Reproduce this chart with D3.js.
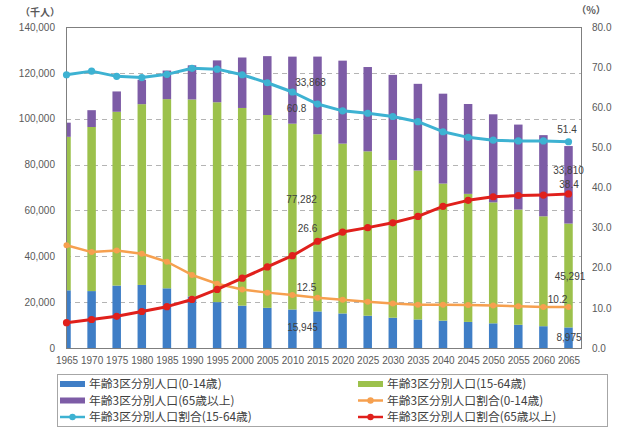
<!DOCTYPE html>
<html><head><meta charset="utf-8">
<script src="https://cdn.jsdelivr.net/npm/d3@7/dist/d3.min.js"></script>
<style>
body{margin:0;background:#fff;}
svg{display:block;font-family:"Liberation Sans",Arial,sans-serif;}
.cjk{font-family:"Noto Sans CJK JP","Noto Sans CJK SC",sans-serif;}
</style></head><body>
<svg id="c" width="623" height="430"></svg>
<script>
const years = ["1965","1970","1975","1980","1985","1990","1995","2000","2005","2010","2015","2020","2025","2030","2035","2040","2045","2050","2055","2060","2065"];
const pop0_14  = [25166,24823,27221,27507,26033,22486,20014,18472,17521,16803,15945,15075,14073,13212,12457,11936,11384,10767,10123,9508,8975];
const pop15_64 = [66928,71566,75807,78835,82506,85904,87165,86220,84092,81032,77282,74058,71701,68754,64942,59777,55845,52750,50276,47928,45291];
const pop65    = [6181,7331,8865,10647,12468,14895,18261,22005,25672,29246,33868,36192,36771,37160,37817,39206,39192,38406,37042,35403,33810];
const pct0_14  = [25.6,23.9,24.3,23.5,21.5,18.2,16.0,14.6,13.8,13.2,12.5,12.0,11.5,11.1,10.8,10.8,10.7,10.6,10.4,10.2,10.2];
const pct15_64 = [68.1,69.0,67.7,67.4,68.2,69.7,69.5,68.1,66.1,63.8,60.8,59.1,58.5,57.7,56.4,53.9,52.5,51.8,51.6,51.6,51.4];
const pct65    = [6.3,7.1,7.9,9.1,10.3,12.1,14.6,17.4,20.2,23.0,26.6,28.9,30.0,31.2,32.8,35.3,36.8,37.7,38.0,38.1,38.4];
const leftTicks  = [0,20000,40000,60000,80000,100000,120000,140000];
const rightTicks = [0,10,20,30,40,50,60,70,80];
const seriesNames = ["年齢3区分別人口(0-14歳)","年齢3区分別人口(15-64歳)","年齢3区分別人口(65歳以上)","年齢3区分別人口割合(0-14歳)","年齢3区分別人口割合(15-64歳)","年齢3区分別人口割合(65歳以上)"];

const C = {blue:"#3f7ec6", green:"#9cc14c", purple:"#7d5ca6", cyan:"#3db2d2", orange:"#f6a04f", red:"#e0201c"};
const svg = d3.select("#c");
const L=66, R=582, T=27, B=348;
const x = d3.scalePoint().domain(years).range([66.5,568.5]);
const yL = d3.scaleLinear().domain([0,140000]).range([B,T]);
const yR = d3.scaleLinear().domain([0,80]).range([B,T]);

svg.append("defs").append("clipPath").attr("id","pc").append("rect").attr("x",L).attr("y",T).attr("width",R-L).attr("height",B-T);

// gridlines
svg.append("g").selectAll("line").data(leftTicks.filter(d=>d>0&&d<140000)).join("line")
  .attr("x1",L).attr("x2",R).attr("y1",d=>Math.round(yL(d))+0.5).attr("y2",d=>Math.round(yL(d))+0.5)
  .attr("stroke","#b4b4b4").attr("stroke-dasharray","5,4");

// stacked bars
const stackData = years.map((y,i)=>({year:y,a:pop0_14[i],b:pop15_64[i],c:pop65[i]}));
const stacked = d3.stack().keys(["a","b","c"])(stackData);
const bw=8.5;
const barCols=[C.blue,C.green,C.purple];
svg.append("g").attr("clip-path","url(#pc)").selectAll("g").data(stacked).join("g").attr("fill",(d,i)=>barCols[i])
  .selectAll("rect").data(d=>d).join("rect")
  .attr("x",d=>x(d.data.year)-bw/2).attr("width",bw)
  .attr("y",d=>yL(d[1])).attr("height",d=>yL(d[0])-yL(d[1]));

// frame
svg.append("rect").attr("x",L+0.5).attr("y",T+0.5).attr("width",R-L-1).attr("height",B-T).attr("fill","none").attr("stroke","#7f7f7f");

// lines
const lineSeries=[{v:pct15_64,c:C.cyan,w:3,r:3.6},{v:pct0_14,c:C.orange,w:2.5,r:3},{v:pct65,c:C.red,w:3,r:3.6}];
const lg = svg.append("g");
lineSeries.forEach(s=>{
  const pts = years.map((y,i)=>[x(y),yR(s.v[i])]);
  lg.append("path").attr("d",d3.line()(pts)).attr("fill","none").attr("stroke",s.c).attr("stroke-width",s.w).attr("stroke-linejoin","round");
  lg.append("g").selectAll("circle").data(pts).join("circle").attr("cx",d=>d[0]).attr("cy",d=>d[1]).attr("r",s.r).attr("fill",s.c);
});

// axes
const axL = svg.append("g").attr("transform",`translate(${L},0)`).call(d3.axisLeft(yL).tickValues(leftTicks).tickFormat(d3.format(",")).tickSize(0).tickPadding(11));
const axR = svg.append("g").attr("transform",`translate(${R},0)`).call(d3.axisRight(yR).tickValues(rightTicks).tickFormat(d3.format(".1f")).tickSize(0).tickPadding(10));
const axB = svg.append("g").attr("transform",`translate(0,${B})`).call(d3.axisBottom(x).tickSize(0).tickPadding(9));
[axL,axR,axB].forEach(a=>{a.select(".domain").remove();a.selectAll("text").attr("fill","#595959").attr("font-size","10px").attr("font-family","Liberation Sans, Arial, sans-serif");});

// unit labels
svg.append("text").attr("class","cjk").attr("x",40).attr("y",16).attr("text-anchor","middle").attr("font-size","10px").attr("font-weight","bold").attr("fill","#595959").text("（千人）");
svg.append("text").attr("class","cjk").attr("x",591).attr("y",14).attr("text-anchor","middle").attr("font-size","10px").attr("font-weight","bold").attr("fill","#595959").text("（%）");

// data labels
const i15 = years.indexOf("2015"), i65 = years.indexOf("2065");
const fmt = d3.format(",");
const tot = i=>pop0_14[i]+pop15_64[i]+pop65[i];
const labels = [
  {t:fmt(pop65[i15]), x:x(years[i15])-7, y:yL(tot(i15))+25.5},
  {t:pct15_64[i15].toFixed(1), x:x(years[i15])-21, y:yR(pct15_64[i15])+4},
  {t:fmt(pop15_64[i15]), x:x(years[i15])-16, y:(yL(pop0_14[i15])+yL(pop0_14[i15]+pop15_64[i15]))/2-23},
  {t:pct65[i15].toFixed(1), x:x(years[i15])-10, y:yR(pct65[i15])-13},
  {t:pct0_14[i15].toFixed(1), x:x(years[i15])-11, y:yR(pct0_14[i15])-10},
  {t:fmt(pop0_14[i15]), x:x(years[i15])-15, y:(yL(0)+yL(pop0_14[i15]))/2-2},
  {t:pct15_64[i65].toFixed(1), x:x(years[i65])-1.5, y:yR(pct15_64[i65])-12},
  {t:fmt(pop65[i65]), x:x(years[i65]), y:yL(tot(i65))+24},
  {t:pct65[i65].toFixed(1), x:x(years[i65])+0.5, y:yR(pct65[i65])-9},
  {t:fmt(pop15_64[i65]), x:x(years[i65])+1.5, y:(yL(pop0_14[i65])+yL(pop0_14[i65]+pop15_64[i65]))/2+1.5},
  {t:pct0_14[i65].toFixed(1), x:x(years[i65])-11, y:yR(pct0_14[i65])-8},
  {t:fmt(pop0_14[i65]), x:x(years[i65])+0.5, y:(yL(0)+yL(pop0_14[i65]))/2}
];
svg.append("g").selectAll("text").data(labels).join("text")
  .attr("x",d=>d.x).attr("y",d=>d.y).attr("dy","0.35em").attr("text-anchor","middle")
  .attr("font-size","10px").attr("fill","#404040").text(d=>d.t);

// legend
svg.append("rect").attr("x",57.5).attr("y",374.5).attr("width",550).attr("height",52).attr("fill","#fff").attr("stroke","#a6a6a6");
const legItems = [
  {n:0,type:"bar",c:C.blue,col:0,row:0},
  {n:1,type:"bar",c:C.green,col:1,row:0},
  {n:2,type:"bar",c:C.purple,col:0,row:1},
  {n:3,type:"line",c:C.orange,col:1,row:1},
  {n:4,type:"line",c:C.cyan,col:0,row:2},
  {n:5,type:"line",c:C.red,col:1,row:2}
];
const colX=[60,358], rowY=[384,400.5,417];
const lgd = svg.append("g");
legItems.forEach(it=>{
  const gx=colX[it.col], gy=rowY[it.row];
  if(it.type==="bar"){
    lgd.append("rect").attr("x",gx).attr("y",gy-3).attr("width",25).attr("height",6).attr("fill",it.c);
  } else {
    lgd.append("line").attr("x1",gx).attr("x2",gx+25).attr("y1",gy).attr("y2",gy).attr("stroke",it.c).attr("stroke-width",2.5);
    lgd.append("circle").attr("cx",gx+12.5).attr("cy",gy).attr("r",3.2).attr("fill",it.c);
  }
  lgd.append("text").attr("class","cjk").attr("x",gx+29).attr("y",gy).attr("dy","0.35em")
    .attr("font-size","11.8px").attr("fill","#404040").text(seriesNames[it.n]);
});
</script>
</body></html>
